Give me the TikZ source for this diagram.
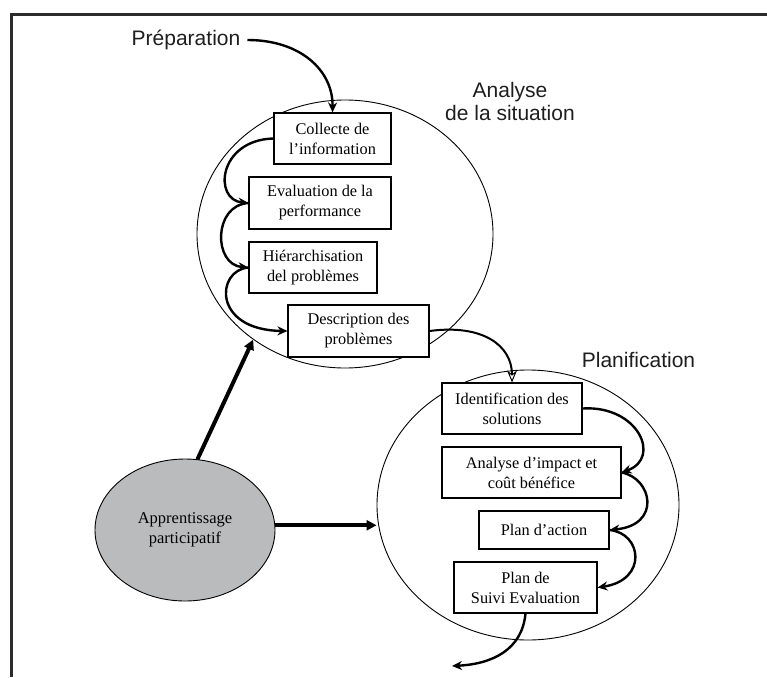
\documentclass[tikz,border=0pt]{standalone}
\usepackage{fontspec}
\setmainfont{Liberation Serif}
\newfontfamily\labelfont{Liberation Sans}
\usetikzlibrary{shapes.geometric,arrows.meta}
\definecolor{framegray}{HTML}{2B2B2B}
\definecolor{appgray}{HTML}{B9BBBD}
\definecolor{labelgray}{HTML}{1E1E1E}
\begin{document}
\begin{tikzpicture}[x=1pt,y=-1pt,
  stepbox/.style 2 args={draw, line width=1.1pt, minimum width=#1, minimum height=#2,
    inner sep=0pt, align=center, font=\fontsize{16.3}{20}\selectfont},
  phase/.style 2 args={draw, ellipse, line width=0.9pt, minimum width=#1, minimum height=#2, inner sep=0pt},
  lbl/.style={inner sep=2pt, align=center, text=labelgray, font=\labelfont\fontsize{21}{23}\selectfont},
  flow/.style={line width=2.4pt, -{Stealth[length=10pt,width=9pt]}},
  openflow/.style={line width=2pt, -{Stealth[open,fill=white,length=12pt,width=10pt,line width=1pt]}},
  bigarrow/.style={line width=4pt, -{Triangle[length=10pt,width=10pt]}},
  frameline/.style={draw=framegray, line width=3pt}
]
\useasboundingbox (0,0) rectangle (767,677);
\draw[frameline] (767,14.5) -- (11.5,14.5) -- (11.5,677);

% phase ellipses
\node[phase={296}{268}] (e1) at (345,234) {};
\node[phase={302}{270}] (e2) at (528,505) {};
\node[draw, ellipse, fill=appgray, line width=0.9pt, minimum width=180, minimum height=142,
  inner sep=0pt, align=center, font=\fontsize{16.5}{20}\selectfont] (app) at (185,530)
  {Apprentissage\\participatif};

% labels
\node[lbl] (prep) at (186,40) {Préparation};
\node[lbl] (anal) at (510,101) {Analyse\\de la situation};
\node[lbl] (plan) at (638.5,360) {Planification};

% boxes of the analysis
\node[stepbox={117}{51}, fill=white] (col) at (332.5,138.5) {Collecte de\\l’information};
\node[stepbox={142}{52}, fill=white] (eva) at (320,203) {Evaluation de la\\performance};
\node[stepbox={128}{51}, fill=white] (hie) at (313,267.5) {Hiérarchisation\\del problèmes};
\node[stepbox={141}{52}, fill=white] (des) at (358.5,331) {Description des\\problèmes};

% boxes of the planning
\node[stepbox={140}{51}, fill=white] (ide) at (512,408.5) {Identification des\\solutions};
\node[stepbox={179}{51}, fill=white] (ana) at (531.5,472.5) {Analyse d’impact et\\coût bénéfice};
\node[stepbox={130}{38}, fill=white] (pla) at (544,530) {Plan d’action};
\node[stepbox={143}{51}, fill=white] (sui) at (525.5,587.5) {Plan de\\Suivi Evaluation};

\coordinate (out) at (452,666);

% curved connectors
\draw[flow, shorten <=5pt] (prep.east) .. controls (300,40) and (333,70) .. (col.north);
\draw[flow] (col.west) .. controls (218,140) and (213,200) .. (eva.west);
\draw[flow] (eva.west) .. controls (213,205) and (213,265) .. (hie.west);
\draw[flow] (hie.west) .. controls (216,270) and (212,330) .. (des.west);
\draw[openflow] (des.east) .. controls (482,324) and (512,345) .. (ide.north);
\draw[flow] (ide.east) .. controls (638,405) and (662,458) .. (ana.east);
\draw[flow] (ana.east) .. controls (652,478) and (662,525) .. (pla.east);
\draw[flow] (pla.east) .. controls (642,533) and (648,580) .. (sui.east);
\draw[flow] (sui.south) .. controls (522,650) and (492,664) .. (out);

% thick arrows from the participative learning
\draw[bigarrow] (app.80) -- (e1.229);
\draw[bigarrow] (app.3) -- (app.3 -| e2.west);
\end{tikzpicture}
\end{document}
